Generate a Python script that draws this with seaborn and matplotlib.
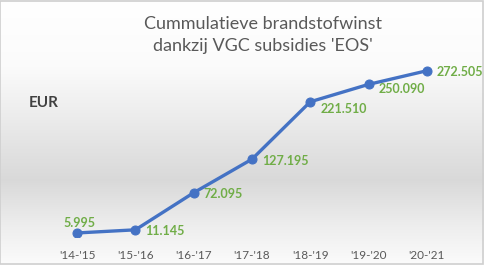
import numpy as np
import pandas as pd
import matplotlib
matplotlib.use("Agg")
import matplotlib.pyplot as plt
import seaborn as sns
from matplotlib.patches import Rectangle

seasons = ["'14-'15", "'15-'16", "'16-'17", "'17-'18", "'18-'19", "'19-'20", "'20-'21"]
values = [5995, 11145, 72095, 127195, 221510, 250090, 272505]
labels = ["5.995", "11.145", "72.095", "127.195", "221.510", "250.090", "272.505"]
title = "Cummulatieve brandstofwinst\ndankzij VGC subsidies 'EOS'"
unit = "EUR"

df = pd.DataFrame({"season": seasons, "value": values, "pos": range(len(seasons))})

sns.set_theme(style="white")
plt.rcParams['font.family'] = ['Lato', 'DejaVu Sans']

W, H = 484, 265
fig = plt.figure(figsize=(W / 100, H / 100), dpi=100)

# background gradient
bg = fig.add_axes([0, 0, 1, 1], zorder=0)
yy = np.linspace(0, 1, 300)  # 0 = top
stops_y = [0.0, 0.25, 0.68, 0.85, 1.0]
stops_c = [1.0, 0.985, 0.85, 0.93, 0.985]
g = np.interp(yy, stops_y, stops_c)
img = np.repeat(g[:, None], 2, axis=1)
bg.imshow(np.dstack([img, img, img]), aspect='auto', extent=[0, 1, 0, 1], origin='upper')
bg.add_patch(Rectangle((0.001, 0.002), 0.996, 0.996, transform=bg.transAxes,
                       fill=False, edgecolor='#cfcfcf', linewidth=1.2))
bg.set_axis_off()

ax = fig.add_axes([48 / W, 1 - 236.6 / H, (456 - 48) / W, (236.6 - 54) / H], zorder=1)
ax.patch.set_alpha(0)
sns.lineplot(data=df, x="pos", y="value", ax=ax, color="#4472C4", linewidth=2.4,
             marker="o", markersize=6.5, markeredgecolor="#4472C4")
ax.set_xlim(-0.5, 6.5)
ax.set_ylim(0, 300000)
ax.set_xticks(range(len(seasons)))
ax.set_xticklabels(seasons, color="#595959", fontsize=8.5)
ax.tick_params(axis='x', length=0, pad=10)
ax.set_yticks([])
ax.set_xlabel("")
ax.set_ylabel("")
for s in ax.spines.values():
    s.set_visible(False)

offsets = [(2, 10, 'center', 'center'), (10, -1, 'left', 'center'), (10, -1, 'left', 'center'),
           (10, -2, 'left', 'center'), (10, -7, 'left', 'center'), (10, -5, 'left', 'center'),
           (10, -1, 'left', 'center')]
for i, (v, lab) in enumerate(zip(values, labels)):
    dx, dy, ha, va = offsets[i]
    ax.annotate(lab, (i, v), xytext=(dx, dy), textcoords='offset pixels',
                ha=ha, va=va, color="#70AD47", fontsize=9, fontweight='bold')

fig.text(263 / W, 1 - 35 / H, title, ha='center', va='center', fontsize=13,
         color="#595959", linespacing=1.45)
fig.text(29 / W, 1 - 103 / H, unit, ha='left', va='center', fontsize=11,
         fontweight='bold', color="#404040")

fig.savefig("out.png", dpi=100)
